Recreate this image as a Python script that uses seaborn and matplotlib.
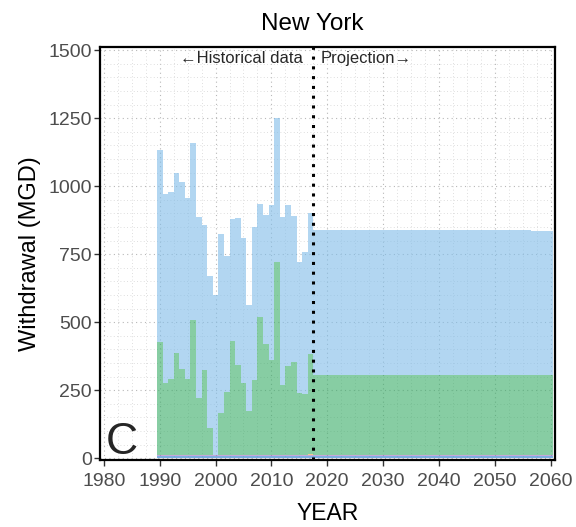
import numpy as np
import pandas as pd
import matplotlib
matplotlib.use("Agg")
import matplotlib.pyplot as plt
from matplotlib.ticker import MultipleLocator
import seaborn as sns

# Annual withdrawals by source, million gallons per day
hist_years = list(range(1990, 2018))
proj_years = list(range(2018, 2061))

surface_hist = [708, 695, 686, 663, 686, 665, 649, 666, 533, 557,
                590, 657, 499, 449, 539, 535, 392, 561, 414, 477,
                570, 532, 619, 594, 537, 483, 524, 519]
ground_hist = [416, 266, 280, 376, 318, 280, 498, 210, 312, 101,
               0, 155, 232, 418, 332, 265, 161, 277, 508, 407,
               348, 707, 255, 324, 341, 226, 222, 366]
surface_proj = [533] * 39 + [529] * 4
ground_proj = [293] * 43

base_a = [9] * 71
base_b = [2] * 20 + [4] * 51
base_c = [0] * 27 + [3] + [0] * 43

years = hist_years + proj_years
layers = {
    "Surface": surface_hist + surface_proj,
    "Ground": ground_hist + ground_proj,
    "Other C": base_c,
    "Other B": base_b,
    "Other A": base_a,
}
palette = {
    "Surface": "#7fbce9",
    "Ground": "#37ac66",
    "Other C": "#f0a040",
    "Other B": "#a070c0",
    "Other A": "#2a7ad0",
}

df = pd.concat(
    [pd.DataFrame({"year": years, "source": k, "mgd": v}) for k, v in layers.items()],
    ignore_index=True,
)

sns.set_style("white")
plt.rcParams["font.family"] = ["Liberation Sans", "DejaVu Sans"]

fig = plt.figure(figsize=(5.76, 5.27), dpi=100)
ax = fig.add_axes([100 / 576, 1 - 460 / 527, 455 / 576, 413 / 527])

sns.histplot(
    data=df, x="year", weights="mgd", hue="source",
    hue_order=list(layers.keys()), palette=palette,
    discrete=True, multiple="stack", element="step",
    alpha=0.6, linewidth=0, legend=False, ax=ax,
)

ax.set_xlim(1979.3, 2060.8)
ax.set_ylim(-7, 1512)
ax.xaxis.set_major_locator(MultipleLocator(10))
ax.xaxis.set_minor_locator(MultipleLocator(2.5))
ax.yaxis.set_major_locator(MultipleLocator(250))
ax.yaxis.set_minor_locator(MultipleLocator(50))
ax.grid(which="major", color="#b8b8b8", linestyle=(0, (1, 3)), linewidth=0.8)
ax.grid(which="minor", color="#d4d4d4", linestyle=(0, (1, 3)), linewidth=0.6)
ax.set_axisbelow(True)

for s in ax.spines.values():
    s.set_color("black")
    s.set_linewidth(1.6)

ax.tick_params(axis="both", which="major", length=4, width=1, color="#333333",
               labelcolor="#4d4d4d", labelsize=14, bottom=True, left=True)
ax.tick_params(axis="x", which="major", pad=5)
ax.tick_params(axis="y", which="major", pad=2)
ax.tick_params(axis="both", which="minor", length=0)

ax.set_xlabel("YEAR", fontsize=16.5, color="black", labelpad=9)
ax.set_ylabel("Withdrawal (MGD)", fontsize=17, color="black", labelpad=5)
ax.set_title("New York", fontsize=17.5, color="black", pad=12,
             x=(312 - 100) / 455)

ax.axvline(2017.5, color="black", linestyle=(0, (1, 2.2)), linewidth=2.2)
ax.text(2015.6, 1470, "\u2190Historical data", ha="right", va="center", fontsize=12)
ax.text(2018.8, 1470, "Projection\u2192", ha="left", va="center", fontsize=12)
ax.text(1980.3, 16, "C", ha="left", va="baseline", fontsize=32)

fig.savefig("out.png", dpi=100)
